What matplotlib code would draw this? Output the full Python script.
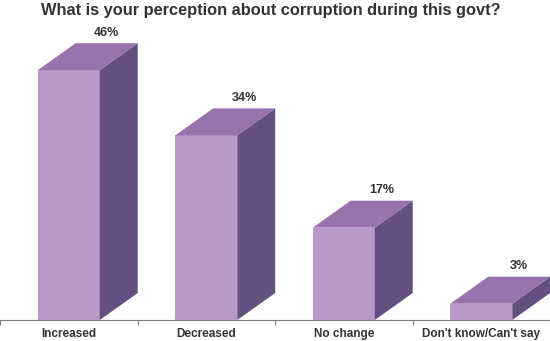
import matplotlib
matplotlib.use("Agg")
import matplotlib.pyplot as plt
from matplotlib.patches import Polygon

# data
categories = ["Increased", "Decreased", "No change", "Don't know/Can't say"]
values = [46, 34, 17, 3]
value_labels = ["46%", "34%", "17%", "3%"]

front_color = "#B89AC8"
top_color = "#9873AE"
side_color = "#634F80"
text_color = "#333333"

font = ["Liberation Sans", "DejaVu Sans"]

fig = plt.figure(figsize=(5.5, 3.41), dpi=100)
ax = fig.add_axes([0, 21 / 341, 1, 298.7 / 341])
ax.set_xlim(0, 4)
ax.set_ylim(0, 55)

half_w = 0.2255   # half width of front face, in category units
dx = 0.276        # depth offset in x
dy = 4.97         # depth offset in y (percent units)

for i, v in enumerate(values):
    x0 = i + 0.5 - half_w
    x1 = i + 0.5 + half_w
    front = Polygon([(x0, 0), (x1, 0), (x1, v), (x0, v)], closed=True,
                    facecolor=front_color, edgecolor="none")
    top = Polygon([(x0, v), (x1, v), (x1 + dx, v + dy), (x0 + dx, v + dy)], closed=True,
                  facecolor=top_color, edgecolor="none")
    side = Polygon([(x1, 0), (x1 + dx, dy), (x1 + dx, v + dy), (x1, v)], closed=True,
                   facecolor=side_color, edgecolor="none")
    for p in (front, side, top):
        ax.add_patch(p)
    ax.text(i + 0.5 + dx, v + dy + 1.9, value_labels[i], ha="center", va="center",
            fontsize=9, fontweight="bold", color=text_color, family=font)

for s in ("top", "left", "right"):
    ax.spines[s].set_visible(False)
ax.spines["bottom"].set_color("#7f7f7f")
ax.spines["bottom"].set_linewidth(0.8)
ax.set_yticks([])
ax.set_xticks([0, 1, 2, 3, 4])
ax.set_xticklabels([])
ax.tick_params(axis="x", which="major", length=3.5, color="#7f7f7f", width=0.8)
ax.set_xticks([0.5, 1.5, 2.5, 3.5], minor=True)
ax.set_xticklabels(categories, minor=True)
ax.tick_params(axis="x", which="minor", length=0, pad=6.0, labelsize=8.5, labelcolor=text_color)
for lab in ax.get_xticklabels(minor=True):
    lab.set_fontweight("bold")
    lab.set_family(font)

fig.text(271 / 550, 1 - 10.5 / 341, "What is your perception about corruption during this govt?",
         ha="center", va="center", fontsize=11.8, fontweight="bold", color=text_color, family=font)

fig.savefig("out.png", dpi=100)
